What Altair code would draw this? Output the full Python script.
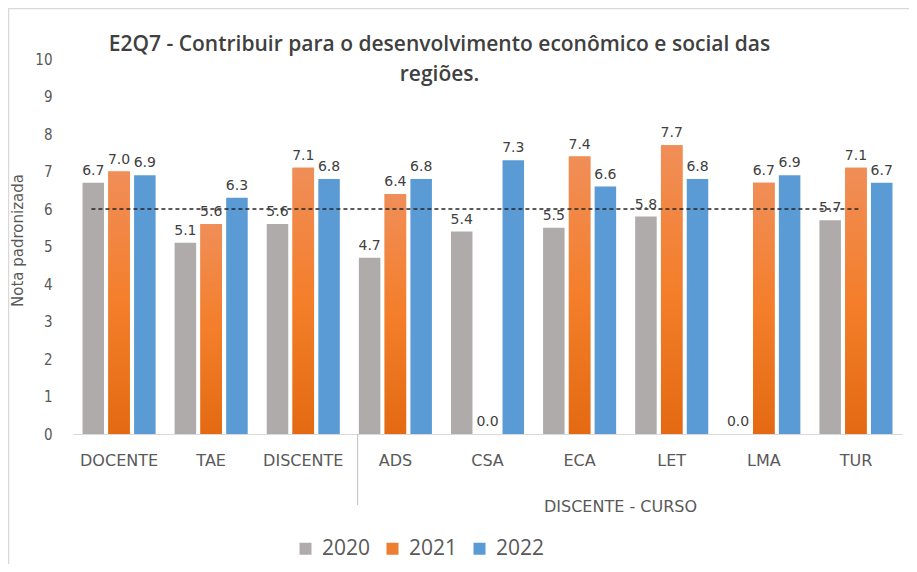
import altair as alt
import pandas as pd

categories = ["DOCENTE", "TAE", "DISCENTE", "ADS", "CSA", "ECA", "LET", "LMA", "TUR"]
years = ["2020", "2021", "2022"]
v2020 = [6.7, 5.1, 5.6, 4.7, 5.4, 5.5, 5.8, 0.0, 5.7]
v2021 = [7.0, 5.6, 7.1, 6.4, 0.0, 7.4, 7.7, 6.7, 7.1]
v2022 = [6.9, 6.3, 6.8, 6.8, 7.3, 6.6, 6.8, 6.9, 6.7]
reference_value = 6.0
y_ticks = [0.0, 1.0, 2.0, 3.0, 4.0, 5.0, 6.0, 7.0, 8.0, 9.0, 10.0]
title_lines = ["E2Q7 - Contribuir para o desenvolvimento econômico e social das", "regiões."]
group_label = "DISCENTE  - CURSO"

rows = []
for i, c in enumerate(categories):
    for yr, vals in zip(years, [v2020, v2021, v2022]):
        rows.append({"cat": c, "year": yr, "value": vals[i]})
df = pd.DataFrame(rows)

W, H = 829, 375
GRAY, ORANGE, BLUE = "#AFABAB", "#ED7D31", "#5B9BD5"
TXT = "#595959"

xscale = alt.Scale(domain=categories, paddingInner=0, paddingOuter=0)
x_axis = alt.Axis(labelAngle=0, ticks=False, domainColor="#D9D9D9", domainWidth=1,
                  labelFont="DejaVu Sans", labelFontSize=16, labelColor=TXT,
                  labelPadding=18, titleFont="DejaVu Sans", titleFontSize=16,
                  titleFontWeight="normal", titleColor=TXT, titleX=547, titleY=64,
                  titleAnchor="middle", titleAlign="center", titleBaseline="top")
yscale = alt.Scale(domain=[0, 10], nice=False)
y_axis = alt.Axis(values=y_ticks, grid=False, domain=False, ticks=False,
                  labelOverlap=False, labelSeparation=0, format="d",
                  labelFont="DejaVu Sans Condensed, DejaVu Sans", labelFontSize=15,
                  labelColor=TXT, labelPadding=21, titleFont="DejaVu Sans",
                  titleFontSize=15, titleFontWeight="normal", titleColor=TXT,
                  titleX=-56, titleY=181, titleBaseline="middle")

x_main = alt.X("cat:N", scale=xscale, title=group_label, axis=x_axis)
xo = alt.XOffset("year:N", scale=alt.Scale(domain=years, paddingInner=0.165, paddingOuter=0.369))
y_main = alt.Y("value:Q", scale=yscale, title="Nota padronizada", axis=y_axis)

bars = alt.Chart(df).mark_bar().encode(
    x=x_main, xOffset=xo, y=y_main,
    color=alt.Color("year:N", scale=alt.Scale(domain=years, range=[GRAY, ORANGE, BLUE]),
                    legend=alt.Legend(title=None, orient="none", direction="horizontal",
                                      legendX=222, legendY=479, symbolType="square",
                                      symbolSize=144, symbolStrokeWidth=0, labelFont="Open Sans",
                                      labelFontSize=21, labelColor=TXT, labelOffset=6,
                                      columnPadding=11))
)

grad = alt.Gradient(gradient="linear", x1=0, y1=0, x2=0, y2=1,
                    stops=[alt.GradientStop(offset=0, color="#F08E58"),
                           alt.GradientStop(offset=0.5, color="#F47E2A"),
                           alt.GradientStop(offset=1, color="#E36A12")])
orange_bars = alt.Chart(df).transform_filter(alt.datum.year == "2021").mark_bar(color=grad).encode(
    x=x_main, xOffset=xo, y=y_main
)

labels = alt.Chart(df).mark_text(baseline="bottom", dy=-5, font="DejaVu Sans", fontSize=14,
                                 color="#404040").encode(
    x=x_main, xOffset=xo, y=y_main,
    text=alt.Text("value:Q", format=".1f")
)

ref_df = pd.DataFrame({"start": [categories[0]], "end": [categories[-1]], "value": [reference_value]})
ref_line = alt.Chart(ref_df).mark_rule(color="#262626", strokeDash=[4, 3], strokeWidth=1.3).encode(
    x=alt.X("start:N", scale=xscale, bandPosition=0.2, title=group_label, axis=x_axis),
    x2=alt.X2("end:N", bandPosition=0.56),
    y=y_main
)

sep_df = pd.DataFrame({"cat": ["ADS"]})
separator = alt.Chart(sep_df).mark_rule(color="#BFBFBF", strokeWidth=1).encode(
    x=alt.X("cat:N", scale=xscale, bandPosition=0.09, title=group_label, axis=x_axis),
    y=alt.value(H), y2=alt.value(H + 71)
)

border_top = alt.Chart(sep_df).mark_rule(color="#D9D9D9", strokeWidth=1.5).encode(
    x=alt.value(-65), x2=alt.value(W + 40), y=alt.value(-50.5)
)
border_left = alt.Chart(sep_df).mark_rule(color="#D9D9D9", strokeWidth=1.5).encode(
    x=alt.value(-64.5), y=alt.value(-50.5), y2=alt.value(H + 140)
)

chart = alt.layer(bars, orange_bars, ref_line, labels, separator, border_top, border_left).properties(
    width=W, height=H,
    title=alt.TitleParams(text=title_lines, font="Open Sans", fontSize=21, fontWeight=600,
                          color="#404040", anchor="middle", dx=-48, dy=77, lineHeight=30, offset=0),
    autosize=alt.AutoSizeParams(type="none"),
    padding={"left": 65, "top": 51, "right": 7, "bottom": 130},
).configure(background="white").configure_view(stroke=None).configure_axisY(labelOverlap=False)

chart.save("out.html", embed_options={"renderer": "svg", "actions": False})
